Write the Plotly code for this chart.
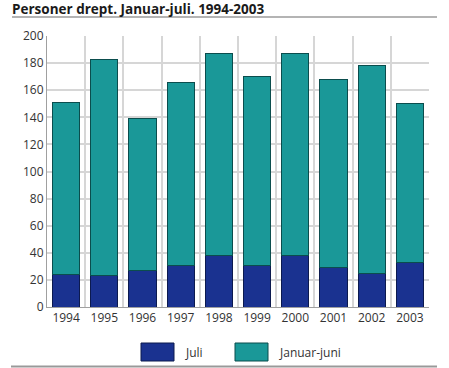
import plotly.graph_objects as go

years = [1994, 1995, 1996, 1997, 1998, 1999, 2000, 2001, 2002, 2003]
juli = [24, 23, 27, 31, 38, 31, 38, 29, 25, 33]
januar_juni = [127, 160, 112, 135, 149, 139, 149, 139, 153, 117]
y_ticks = [0, 20, 40, 60, 80, 100, 120, 140, 160, 180, 200]

BLUE = "#1a3290"
TEAL = "#1a9898"
FONT = "Open Sans"

W, H = 449, 368
PL, PR, PT, PB = 47, 429, 36, 307  # plot area edges (page pixels)
PW, PH = PR - PL, PB - PT


def px_x(v):
    return (v - PL) / PW


def px_y(v):
    return (PB - v) / PH


fig = go.Figure()
fig.add_trace(go.Bar(x=years, y=juli, name="Juli",
                     marker=dict(color=BLUE, line=dict(color="#0c1a4f", width=1))))
fig.add_trace(go.Bar(x=years, y=januar_juni, name="Januar-juni",
                     marker=dict(color=TEAL, line=dict(color="#0b4d4d", width=1))))

fig.update_layout(
    width=W, height=H,
    barmode="stack", bargap=0.29,
    margin=dict(l=PL, r=W - PR, t=PT, b=H - PB, autoexpand=False),
    paper_bgcolor="white", plot_bgcolor="white",
    showlegend=False,
    font=dict(family=FONT, size=12, color="#333333"),
    title=dict(text="<b>Personer drept. Januar-juli. 1994-2003</b>",
               x=12 / W, xref="container", xanchor="left",
               y=1 - 9 / H, yref="container", yanchor="middle",
               font=dict(family=FONT, size=13.5, color="#1a1a1a")),
    xaxis=dict(range=[years[0] - 0.5, years[-1] + 0.5], tickmode="array",
               tickvals=years, ticktext=[str(y) for y in years],
               showgrid=False, ticks="", showline=True, linecolor="#a0a0a0", linewidth=1,
               minor=dict(tick0=years[0] - 0.5, dtick=1, showgrid=True,
                          gridcolor="#d6d6d6", gridwidth=1.5, ticks=""),
               tickfont=dict(size=12, color="#333333"), fixedrange=True),
    yaxis=dict(range=[0, 200], tickmode="array", tickvals=y_ticks,
               showgrid=True, gridcolor="#d6d6d6", gridwidth=1.5,
               zeroline=False, showline=True, linecolor="#a0a0a0", linewidth=1,
               ticks="", tickfont=dict(size=12, color="#333333"), fixedrange=True),
)

# decorative lines: under title and at bottom
fig.add_shape(type="line", xref="paper", yref="paper",
              x0=px_x(12), x1=px_x(437), y0=px_y(17), y1=px_y(17),
              line=dict(color="#b4b4b4", width=2))
fig.add_shape(type="line", xref="paper", yref="paper",
              x0=px_x(11), x1=px_x(437), y0=px_y(366.5), y1=px_y(366.5),
              line=dict(color="#999999", width=2))

# custom legend
legend_items = [("Juli", BLUE, "#0c1a4f", 141), ("Januar-juni", TEAL, "#0b4d4d", 235)]
for label, col, lcol, x0 in legend_items:
    fig.add_shape(type="rect", xref="paper", yref="paper",
                  x0=px_x(x0), x1=px_x(x0 + 33), y0=px_y(343), y1=px_y(361),
                  fillcolor=col, line=dict(color=lcol, width=1))
    fig.add_annotation(xref="paper", yref="paper", x=px_x(x0 + 42), y=px_y(352),
                       text=label, showarrow=False, xanchor="left", yanchor="middle",
                       font=dict(family=FONT, size=12, color="#333333"))

fig.write_html("out.html", config={"displayModeBar": False},
               post_script="document.body.style.margin='0';document.body.style.padding='0';")
